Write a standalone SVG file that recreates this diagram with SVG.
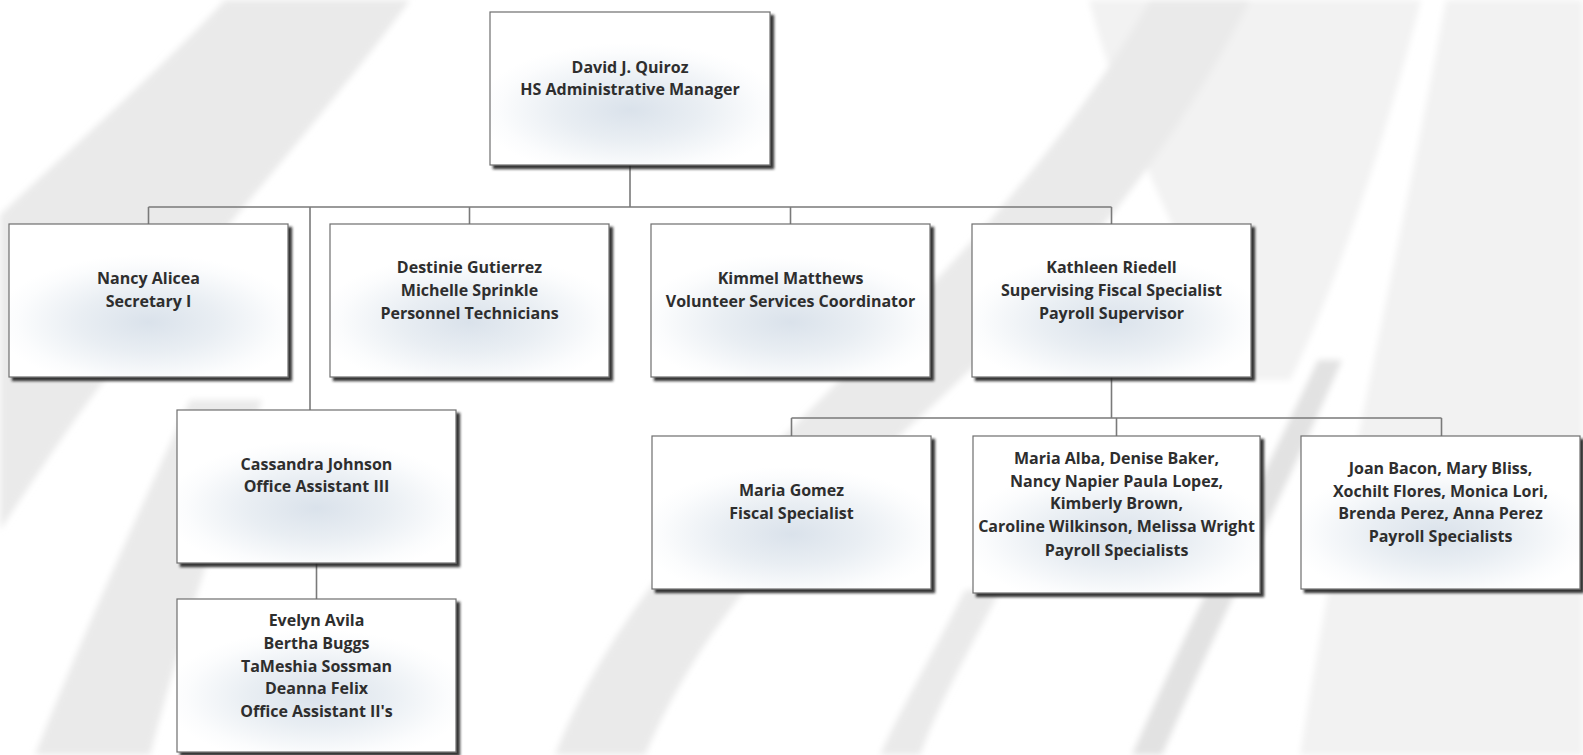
<svg xmlns="http://www.w3.org/2000/svg" width="1583" height="755" viewBox="0 0 1583 755">
<defs>
<style>
.box{fill:url(#boxg);stroke:#6e6e6e;stroke-width:1.2;filter:url(#sh)}
.t{font-family:"Open Sans","Noto Sans","Liberation Sans",sans-serif;font-weight:700;font-size:16px;fill:#2e2e2e;text-anchor:middle}
.c{fill:none;stroke:#7a7a7a;stroke-width:1.6}
.bg{fill:#eaeaea}
.bg2{fill:#f2f2f2}
.bg3{fill:#e2e2e2}
</style>
<radialGradient id="boxg" cx="0.5" cy="0.64" r="0.55" gradientTransform="translate(0.5 0.64) scale(1 0.8) translate(-0.5 -0.64)">
<stop offset="0" stop-color="#dae2eb"/>
<stop offset="0.45" stop-color="#e9eef3"/>
<stop offset="0.85" stop-color="#fbfcfd"/>
<stop offset="1" stop-color="#ffffff"/>
</radialGradient>
<filter id="sh" x="-5%" y="-5%" width="115%" height="115%">
<feDropShadow dx="3.5" dy="3.5" stdDeviation="0.9" flood-color="#1a1a1a" flood-opacity="0.9"/>
</filter>
<filter id="blur"><feGaussianBlur stdDeviation="3"/></filter>
</defs>
<rect width="1583" height="755" fill="#ffffff"/>
<g id="background" filter="url(#blur)">
<path class="bg2" d="M1446,0 L1583,0 L1583,755 L1300,755 C1340,500 1400,250 1446,0 Z"/>
<path class="bg2" d="M1089,0 L1421,0 C1380,160 1330,300 1290,380 L1250,380 C1180,250 1120,120 1089,0 Z"/>
<path class="bg" d="M225,0 L410,0 C330,110 220,230 120,360 C80,410 40,470 0,530 L0,215 C80,140 160,70 225,0 Z"/>
<path class="bg" d="M190,400 L262,400 C220,520 180,640 150,755 L35,755 C80,640 140,510 190,400 Z"/>
<path class="bg" d="M1150,0 L1250,0 C1150,200 1000,350 860,470 C760,560 690,650 645,755 L555,755 C600,640 680,540 780,440 C920,300 1060,160 1150,0 Z"/>
<path class="bg3" d="M1318,360 L1342,360 C1290,480 1220,620 1162,755 L1132,755 C1190,620 1262,480 1318,360 Z"/>
<path class="bg" d="M965,590 L1000,590 C970,650 940,700 920,755 L880,755 C905,700 935,650 965,590 Z"/>
</g>
<g id="connectors">
<path class="c" d="M630,165 V207 M148.5,207 H1111.5 M148.5,207 V224 M469.5,207 V224 M790.5,207 V224 M1111.5,207 V224 M310,207 V410"/>
<path class="c" d="M316.5,563 V599"/>
<path class="c" d="M1111.5,377 V418 M791.5,418 H1441.5 M791.5,418 V436 M1116.5,418 V436 M1441.5,418 V436"/>
</g>
<g id="n-quiroz">
<rect class="box" x="490" y="12" width="280" height="153"/>
<text class="t" x="630" y="72.5">David J. Quiroz</text>
<text class="t" x="630" y="95">HS Administrative Manager</text>
</g>
<g id="n-alicea">
<rect class="box" x="9" y="224" width="279" height="153"/>
<text class="t" x="148.5" y="283.5">Nancy Alicea</text>
<text class="t" x="148.5" y="306.5">Secretary I</text>
</g>
<g id="n-personnel">
<rect class="box" x="330" y="224" width="279" height="153"/>
<text class="t" x="469.5" y="272.5">Destinie Gutierrez</text>
<text class="t" x="469.5" y="295.5">Michelle Sprinkle</text>
<text class="t" x="469.5" y="318.5">Personnel Technicians</text>
</g>
<g id="n-matthews">
<rect class="box" x="651" y="224" width="279" height="153"/>
<text class="t" x="790.5" y="283.5">Kimmel Matthews</text>
<text class="t" x="790.5" y="306.5">Volunteer Services Coordinator</text>
</g>
<g id="n-riedell">
<rect class="box" x="972" y="224" width="279" height="153"/>
<text class="t" x="1111.5" y="272.5">Kathleen Riedell</text>
<text class="t" x="1111.5" y="295.5">Supervising Fiscal Specialist</text>
<text class="t" x="1111.5" y="318.5">Payroll Supervisor</text>
</g>
<g id="n-johnson">
<rect class="box" x="177" y="410" width="279" height="153"/>
<text class="t" x="316.5" y="469.5">Cassandra Johnson</text>
<text class="t" x="316.5" y="491.5">Office Assistant III</text>
</g>
<g id="n-oa2">
<rect class="box" x="177" y="599" width="279" height="153"/>
<text class="t" x="316.5" y="626">Evelyn Avila</text>
<text class="t" x="316.5" y="648.5">Bertha Buggs</text>
<text class="t" x="316.5" y="671.5">TaMeshia Sossman</text>
<text class="t" x="316.5" y="694">Deanna Felix</text>
<text class="t" x="316.5" y="717">Office Assistant II's</text>
</g>
<g id="n-gomez">
<rect class="box" x="652" y="436" width="279" height="153"/>
<text class="t" x="791.5" y="496">Maria Gomez</text>
<text class="t" x="791.5" y="519">Fiscal Specialist</text>
</g>
<g id="n-payroll1">
<rect class="box" x="973" y="436" width="287" height="157"/>
<text class="t" x="1116.5" y="463.5">Maria Alba, Denise Baker,</text>
<text class="t" x="1116.5" y="486.5">Nancy Napier Paula Lopez,</text>
<text class="t" x="1116.5" y="509">Kimberly Brown,</text>
<text class="t" x="1116.5" y="532">Caroline Wilkinson, Melissa Wright</text>
<text class="t" x="1116.5" y="555.5">Payroll Specialists</text>
</g>
<g id="n-payroll2">
<rect class="box" x="1301" y="436" width="279" height="153"/>
<text class="t" x="1440.5" y="473.5">Joan Bacon, Mary Bliss,</text>
<text class="t" x="1440.5" y="496.5">Xochilt Flores, Monica Lori,</text>
<text class="t" x="1440.5" y="519">Brenda Perez, Anna Perez</text>
<text class="t" x="1440.5" y="542">Payroll Specialists</text>
</g>
</svg>
